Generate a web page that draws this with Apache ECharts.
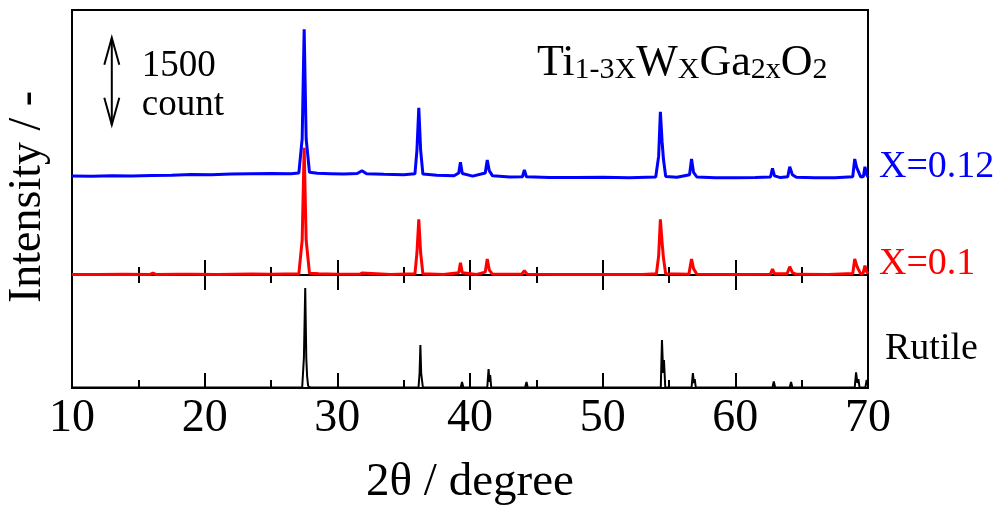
<!DOCTYPE html>
<html>
<head>
<meta charset="utf-8">
<script src="https://cdn.jsdelivr.net/npm/echarts@6/dist/echarts.min.js"></script>
<style>
  html, body { margin: 0; padding: 0; background: #fff; }
  #chart { width: 1003px; height: 511px; }
</style>
</head>
<body>
<div id="chart"></div>
<script>
// XRD patterns, 2θ (degree) vs intensity (count)
// X = 0.12 sample (raw counts, shifted up by blueOffset for stacking)
const blueOffset = 1650;
const xrdX012 = [
  [10.0, 57], [11.5, 52], [13.0, 60], [14.5, 58], [16.0, 66], [17.5, 72], [19.0, 84],
  [20.5, 80], [22.0, 90], [23.5, 96], [25.0, 100], [26.5, 98], [27.1, 110], [27.35, 700],
  [27.5, 2586], [27.65, 700], [27.9, 120], [28.5, 104], [29.5, 98], [30.5, 92], [31.5, 100],
  [31.86, 148], [32.2, 95], [33.5, 86], [35.0, 80], [35.85, 95], [36.0, 500], [36.14, 1234],
  [36.28, 500], [36.45, 90], [37.5, 72], [38.8, 62], [39.15, 110], [39.28, 293], [39.42, 100],
  [40.2, 55], [41.15, 110], [41.3, 333], [41.45, 150], [41.7, 60], [43.0, 40], [43.95, 45],
  [44.1, 160], [44.25, 45], [46.0, 32], [48.0, 30], [50.0, 35], [52.0, 28], [54.0, 40],
  [54.22, 400], [54.35, 1165], [54.48, 650], [54.58, 350], [54.75, 50], [55.6, 35],
  [56.55, 80], [56.7, 350], [56.85, 120], [57.1, 40], [58.5, 28], [60.0, 25], [61.5, 30],
  [62.65, 40], [62.8, 190], [62.95, 60], [63.4, 30], [63.95, 45], [64.1, 217], [64.3, 80],
  [64.6, 35], [66.0, 25], [67.5, 28], [68.85, 45], [69.0, 350], [69.15, 200], [69.25, 150],
  [69.45, 40], [69.65, 50], [69.77, 217], [69.9, 80], [70.0, 40]
];

// X = 0.1 sample (raw counts)
const xrdX010 = [
  [10.0, 10], [12.0, 8], [14.0, 12], [15.9, 10], [16.1, 35], [16.3, 10], [18.0, 12],
  [18.8, 12], [18.95, 35], [19.1, 12], [21.0, 10], [23.5, 18], [25.0, 12], [27.1, 20],
  [27.35, 600], [27.5, 2195], [27.65, 600], [27.9, 30], [28.3, 25], [28.45, 55], [28.6, 20],
  [30.0, 15], [31.7, 12], [31.86, 35], [32.0, 12], [34.0, 10], [35.85, 20], [36.0, 380],
  [36.14, 960], [36.28, 380], [36.45, 20], [38.0, 10], [39.15, 40], [39.28, 212], [39.42, 40],
  [40.5, 10], [41.15, 50], [41.3, 276], [41.45, 90], [41.7, 12], [43.9, 15], [44.1, 74],
  [44.3, 15], [47.0, 10], [50.0, 10], [53.0, 10], [54.05, 20], [54.22, 330], [54.35, 960],
  [54.48, 560], [54.58, 300], [54.75, 20], [56.5, 15], [56.7, 276], [56.85, 110], [57.1, 12],
  [60.0, 10], [62.65, 15], [62.8, 103], [62.95, 25], [63.9, 20], [64.1, 143], [64.3, 40],
  [64.6, 12], [67.0, 10], [68.85, 25], [69.0, 276], [69.15, 160], [69.25, 110], [69.45, 20],
  [69.62, 25], [69.77, 160], [69.9, 60], [70.0, 20]
];

// Rutile reference pattern (relative intensity, %)
const xrdRutile = [
  [10.0, 0.5], [27.35, 0.5], [27.48, 30], [27.58, 100], [27.66, 30], [27.72, 12], [27.8, 2],
  [28.0, 0.5], [36.12, 0.5], [36.2, 15], [36.26, 43], [36.32, 15], [36.38, 8], [36.45, 0.5],
  [39.3, 0.5], [39.4, 6], [39.5, 0.5], [41.3, 0.5], [41.4, 19], [41.47, 6], [41.52, 13],
  [41.6, 0.5], [44.15, 0.5], [44.26, 6], [44.35, 0.5], [54.38, 0.5], [54.47, 48], [54.56, 15],
  [54.62, 28], [54.72, 0.5], [56.7, 0.5], [56.8, 15], [56.88, 5], [56.94, 9], [57.02, 0.5],
  [62.8, 0.5], [62.9, 6.6], [63.0, 0.5], [64.1, 0.5], [64.2, 6], [64.3, 0.5], [65.5, 0.5],
  [65.6, 1.5], [65.7, 0.5], [69.0, 0.5], [69.1, 15.6], [69.2, 5], [69.28, 9], [69.36, 0.5],
  [69.8, 0.5], [69.9, 8], [70.0, 3]
];

// Scale bar: position (2θ), lower end (count) and length (count)
const scaleBarX = 13.0;
const scaleBarBase = 2590;
const scaleBarCounts = 1500;

const xMin = 10, xMax = 70, xStep = 10;
const FONT = '"Liberation Serif", "Times New Roman", serif';

const tickStyle = {
  show: true, inside: true, length: 15,
  lineStyle: { color: '#000', width: 2 }
};
const minorTickStyle = {
  show: true, splitNumber: 2, length: 8,
  lineStyle: { color: '#000', width: 2 }
};
const baseX = {
  type: 'value', min: xMin, max: xMax, interval: xStep,
  axisLine: { show: true, lineStyle: { color: '#000', width: 2 } },
  axisTick: tickStyle, minorTick: minorTickStyle,
  splitLine: { show: false }, axisLabel: { show: false }
};

const chart = echarts.init(document.getElementById('chart'), null, { renderer: 'canvas' });

chart.setOption({
  animation: false,
  backgroundColor: '#fff',
  grid: [
    { left: 72, right: 135, top: 10, height: 265, show: true, borderColor: '#000', borderWidth: 2 },
    { left: 72, right: 135, top: 275, height: 113, show: true, borderColor: '#000', borderWidth: 2 }
  ],
  xAxis: [
    Object.assign({}, baseX, { gridIndex: 0, position: 'top' }),
    Object.assign({}, baseX, { gridIndex: 0, position: 'bottom' }),
    Object.assign({}, baseX, {
      gridIndex: 1, position: 'bottom',
      axisLabel: { show: true, color: '#000', fontFamily: FONT, fontSize: 46, margin: 8 },
      name: '2θ / degree', nameLocation: 'middle', nameGap: 71,
      nameTextStyle: { color: '#000', fontFamily: FONT, fontSize: 47 }
    })
  ],
  yAxis: [
    { type: 'value', gridIndex: 0, min: 0, max: 4570, show: false },
    { type: 'value', gridIndex: 1, min: 0, max: 113, show: false }
  ],
  series: [
    {
      name: 'X=0.1', type: 'line', xAxisIndex: 1, yAxisIndex: 0,
      data: xrdX010, showSymbol: false, clip: false,
      lineStyle: { color: '#ff0000', width: 3 }, z: 3
    },
    {
      name: 'X=0.12', type: 'line', xAxisIndex: 1, yAxisIndex: 0,
      data: xrdX012.map(p => [p[0], p[1] + blueOffset]), showSymbol: false, clip: false,
      lineStyle: { color: '#0000ff', width: 3 }, z: 4
    },
    {
      name: 'Rutile', type: 'line', xAxisIndex: 2, yAxisIndex: 1,
      data: xrdRutile, showSymbol: false, clip: false,
      lineStyle: { color: '#000', width: 2 }, z: 3
    },
    {
      // double-headed scale bar with its count label
      type: 'custom', xAxisIndex: 1, yAxisIndex: 0, clip: false, z: 5,
      data: [[scaleBarX, scaleBarBase, scaleBarCounts]],
      renderItem: function (params, api) {
        const x = api.value(0), lo = api.value(1), hi = lo + api.value(2);
        const pLo = api.coord([x, lo]);
        const pHi = api.coord([x, hi]);
        const head = 27, half = 7.5;
        const stroke = { stroke: '#000', lineWidth: 2, fill: null };
        return {
          type: 'group',
          children: [
            { type: 'line', shape: { x1: pLo[0], y1: pLo[1], x2: pHi[0], y2: pHi[1] }, style: stroke },
            { type: 'polyline', shape: { points: [[pHi[0] - half, pHi[1] + head], [pHi[0], pHi[1]], [pHi[0] + half, pHi[1] + head]] }, style: stroke },
            { type: 'polyline', shape: { points: [[pLo[0] - half, pLo[1] - head], [pLo[0], pLo[1]], [pLo[0] + half, pLo[1] - head]] }, style: stroke },
            {
              type: 'text', x: pLo[0] + 30, y: (pLo[1] + pHi[1]) / 2 + 4,
              style: {
                text: scaleBarCounts + '\ncount', fill: '#000', font: '37px ' + FONT,
                lineHeight: 39, align: 'left', verticalAlign: 'middle'
              }
            }
          ]
        };
      }
    }
  ],
  graphic: [
    {
      type: 'text', x: 27.5, y: 197, rotation: Math.PI / 2,
      style: { text: 'Intensity / -', fill: '#000', font: '46px ' + FONT, align: 'center', verticalAlign: 'middle' }
    },
    {
      type: 'text', x: 537, y: 41,
      style: {
        text: '{m|Ti}{s|1-3X}{m|W}{s|X}{m|Ga}{s|2x}{m|O}{s|2}',
        align: 'left', verticalAlign: 'top', fill: '#000',
        rich: {
          m: { fontFamily: FONT, fontSize: 44, lineHeight: 44, verticalAlign: 'top', fill: '#000' },
          s: { fontFamily: FONT, fontSize: 30, lineHeight: 30, padding: [19, 0, 0, 0], verticalAlign: 'bottom', fill: '#000' }
        }
      }
    },
    {
      type: 'text', x: 879, y: 167,
      style: { text: 'X=0.12', fill: '#0000ff', font: '38px ' + FONT, align: 'left', verticalAlign: 'middle' }
    },
    {
      type: 'text', x: 879, y: 264,
      style: { text: 'X=0.1', fill: '#ff0000', font: '38px ' + FONT, align: 'left', verticalAlign: 'middle' }
    },
    {
      type: 'text', x: 885, y: 349,
      style: { text: 'Rutile', fill: '#000', font: '38px ' + FONT, align: 'left', verticalAlign: 'middle' }
    }
  ]
});
</script>
</body>
</html>
